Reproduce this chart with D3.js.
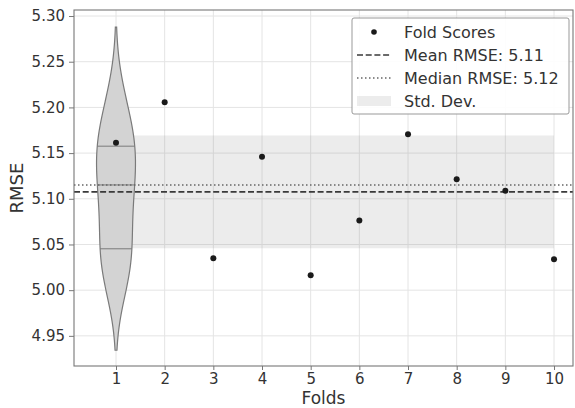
<!DOCTYPE html>
<html>
<head>
<meta charset="utf-8">
<script src="https://cdn.jsdelivr.net/npm/d3@7"></script>
<style>
  body { margin: 0; background: #fff; }
  svg { display: block; font-family: "DejaVu Sans", sans-serif; }
</style>
</head>
<body>
<div id="chart"></div>
<script>
// fold numbers and the RMSE of each fold
const folds = [1, 2, 3, 4, 5, 6, 7, 8, 9, 10];
const foldScores = [5.1614, 5.2056, 5.0350, 5.1461, 5.0164, 5.0761, 5.1706, 5.1214, 5.1089, 5.0339];
const yTicks = [4.95, 5.00, 5.05, 5.10, 5.15, 5.20, 5.25, 5.30];
const xTicks = folds;

const W = 575, H = 408;
const margin = { top: 10, right: 2, bottom: 42, left: 74 };

const svg = d3.select("#chart")
    .append("svg")
    .attr("width", W)
    .attr("height", H);

const x = d3.scaleLinear()
    .domain([0.137, 10.39])
    .range([margin.left, W - margin.right]);

const y = d3.scaleLinear()
    .domain([4.917, 5.3066])
    .range([H - margin.bottom, margin.top]);

// summary stats
const mean = d3.mean(foldScores);
const median = d3.median(foldScores);
const sd = Math.sqrt(d3.mean(foldScores, d => (d - mean) ** 2));

// grid
svg.append("g")
    .selectAll("line.vg")
    .data(xTicks)
    .enter()
    .append("line")
    .attr("x1", d => x(d)).attr("x2", d => x(d))
    .attr("y1", margin.top).attr("y2", H - margin.bottom)
    .attr("stroke", "#e4e4e4").attr("stroke-width", 1);

svg.append("g")
    .selectAll("line.hg")
    .data(yTicks)
    .enter()
    .append("line")
    .attr("x1", margin.left).attr("x2", W - margin.right)
    .attr("y1", d => y(d)).attr("y2", d => y(d))
    .attr("stroke", "#e4e4e4").attr("stroke-width", 1);

// std band
const band = d3.area()
    .x(d => x(d))
    .y0(() => y(mean - sd))
    .y1(() => y(mean + sd));

svg.append("path")
    .datum(folds)
    .attr("d", band)
    .attr("fill", "gray")
    .attr("fill-opacity", 0.15);

// violin at fold 1 (gaussian kde, scott bandwidth, cut = 2)
const sdSample = d3.deviation(foldScores);
const bw = sdSample * Math.pow(foldScores.length, -1 / 5);
const kde = t => d3.mean(foldScores, v => Math.exp(-0.5 * ((t - v) / bw) ** 2)) / (bw * Math.sqrt(2 * Math.PI));
const lo = d3.min(foldScores) - 2 * bw;
const hi = d3.max(foldScores) + 2 * bw;
const grid = d3.range(100).map(i => lo + (hi - lo) * i / 99);
const dens = grid.map(t => ({ v: t, d: kde(t) }));
const maxD = d3.max(dens, d => d.d);
const halfW = d => d / maxD * 0.4;

const violin = d3.area()
    .y(d => y(d.v))
    .x0(d => x(1 - halfW(d.d)))
    .x1(d => x(1 + halfW(d.d)));

svg.append("path")
    .datum(dens)
    .attr("d", violin)
    .attr("fill", "#d3d3d3")
    .attr("stroke", "#7a7a7a")
    .attr("stroke-width", 1.2);

const sorted = foldScores.slice().sort(d3.ascending);
const quarts = [0.25, 0.5, 0.75].map(p => d3.quantile(sorted, p));
svg.append("g")
    .selectAll("line")
    .data(quarts)
    .enter()
    .append("line")
    .attr("x1", d => x(1 - halfW(kde(d))))
    .attr("x2", d => x(1 + halfW(kde(d))))
    .attr("y1", d => y(d)).attr("y2", d => y(d))
    .attr("stroke", "#7a7a7a")
    .attr("stroke-width", 1);

// mean and median lines
svg.append("line")
    .attr("x1", margin.left).attr("x2", W - margin.right)
    .attr("y1", y(mean)).attr("y2", y(mean))
    .attr("stroke", "#3a3a3a")
    .attr("stroke-width", 1.6)
    .attr("stroke-dasharray", "6,2.7");

svg.append("line")
    .attr("x1", margin.left).attr("x2", W - margin.right)
    .attr("y1", y(median)).attr("y2", y(median))
    .attr("stroke", "#666")
    .attr("stroke-width", 1.4)
    .attr("stroke-dasharray", "1.5,2.5");

// fold scores
svg.append("g")
    .selectAll("circle")
    .data(folds)
    .enter()
    .append("circle")
    .attr("cx", d => x(d))
    .attr("cy", (d, i) => y(foldScores[i]))
    .attr("r", 3)
    .attr("fill", "#1a1a1a");

// axes
const yAxis = svg.append("g")
    .attr("transform", `translate(${margin.left},0)`)
    .call(d3.axisLeft(y).tickValues(yTicks).tickFormat(d3.format(".2f")).tickSize(5).tickPadding(4));

const xAxis = svg.append("g")
    .attr("transform", `translate(0,${H - margin.bottom})`)
    .call(d3.axisBottom(x).tickValues(xTicks).tickFormat(d3.format("d")).tickSize(4).tickPadding(3));

[yAxis, xAxis].forEach(g => {
    g.select(".domain").remove();
    g.selectAll(".tick line").attr("stroke", "#777");
    g.selectAll("text")
        .attr("fill", "#333")
        .style("font-size", "15px")
        .style("font-family", "DejaVu Sans");
});

// spines
svg.append("rect")
    .attr("x", margin.left)
    .attr("y", margin.top)
    .attr("width", W - margin.right - margin.left)
    .attr("height", H - margin.bottom - margin.top)
    .attr("fill", "none")
    .attr("stroke", "#777")
    .attr("stroke-width", 1.1);

// axis titles
svg.append("text")
    .attr("text-anchor", "middle")
    .attr("x", (margin.left + W - margin.right) / 2)
    .attr("y", 404)
    .attr("fill", "#333")
    .style("font-size", "17px")
    .text("Folds");

svg.append("text")
    .attr("text-anchor", "middle")
    .attr("transform", `translate(23,${(margin.top + H - margin.bottom) / 2}) rotate(-90)`)
    .attr("fill", "#333")
    .style("font-size", "18px")
    .text("RMSE");

// legend
const legend = svg.append("g");
legend.append("rect")
    .attr("x", 352).attr("y", 18)
    .attr("width", 217).attr("height", 96)
    .attr("rx", 2)
    .attr("fill", "#fff").attr("fill-opacity", 0.9)
    .attr("stroke", "#999");

const legendLabels = ["Fold Scores", `Mean RMSE: ${mean.toFixed(2)}`, `Median RMSE: ${median.toFixed(2)}`, "Std. Dev."];
const rowY = [32, 55, 78, 101];

legend.append("circle").attr("cx", 374).attr("cy", rowY[0]).attr("r", 2.8).attr("fill", "#1a1a1a");
legend.append("line").attr("x1", 357).attr("x2", 391).attr("y1", rowY[1]).attr("y2", rowY[1])
    .attr("stroke", "#3a3a3a").attr("stroke-width", 1.6).attr("stroke-dasharray", "6,2.7");
legend.append("line").attr("x1", 357).attr("x2", 391).attr("y1", rowY[2]).attr("y2", rowY[2])
    .attr("stroke", "#666").attr("stroke-width", 1.4).attr("stroke-dasharray", "1.5,2.5");
legend.append("rect").attr("x", 357).attr("y", rowY[3] - 5).attr("width", 34).attr("height", 10)
    .attr("fill", "gray").attr("fill-opacity", 0.15);

legend.selectAll("text")
    .data(legendLabels)
    .enter()
    .append("text")
    .attr("x", 404)
    .attr("y", (d, i) => rowY[i])
    .attr("dy", "0.36em")
    .attr("fill", "#333")
    .style("font-size", "16px")
    .text(d => d);
</script>
</body>
</html>
